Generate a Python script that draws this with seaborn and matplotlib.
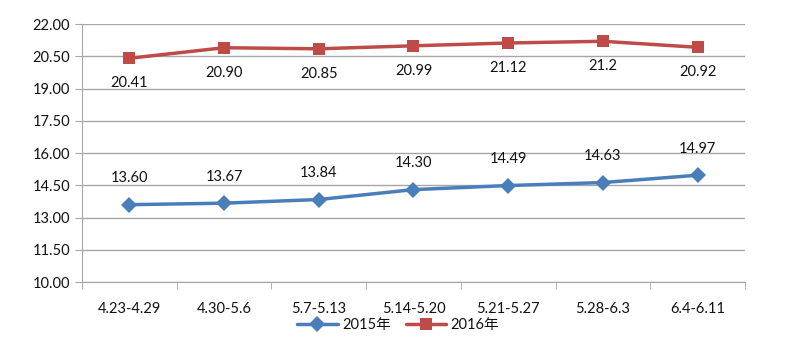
import matplotlib
matplotlib.use("Agg")
import matplotlib.pyplot as plt
import seaborn as sns
import pandas as pd

categories = ["4.23-4.29", "4.30-5.6", "5.7-5.13", "5.14-5.20", "5.21-5.27", "5.28-6.3", "6.4-6.11"]
values_2015 = [13.60, 13.67, 13.84, 14.30, 14.49, 14.63, 14.97]
values_2016 = [20.41, 20.90, 20.85, 20.99, 21.12, 21.20, 20.92]
labels_2015 = ["13.60", "13.67", "13.84", "14.30", "14.49", "14.63", "14.97"]
labels_2016 = ["20.41", "20.90", "20.85", "20.99", "21.12", "21.2", "20.92"]
yticks = [10.00, 11.50, 13.00, 14.50, 16.00, 17.50, 19.00, 20.50, 22.00]

sns.set_style("white")
plt.rcParams['font.family'] = ['Lato', 'Noto Sans CJK SC', 'DejaVu Sans']

df = pd.DataFrame({
    "pos": list(range(len(categories))) * 2,
    "value": values_2015 + values_2016,
    "series": ["2015年"] * len(categories) + ["2016年"] * len(categories),
})

fig = plt.figure(figsize=(7.85, 3.44), dpi=100)
ax = fig.add_axes([0.1045, 0.180, 0.8445, 0.750])

blue = "#4A7EBB"
red = "#BE4B48"
sns.lineplot(data=df, x="pos", y="value", hue="series", style="series",
             markers={"2015年": "D", "2016年": "s"}, dashes=False,
             palette={"2015年": blue, "2016年": red}, linewidth=2.5,
             markersize=8, markeredgewidth=0, ax=ax)

ax.set_xlim(-0.5, len(categories) - 0.5)
ax.set_ylim(10, 22)
ax.set_yticks(yticks)
ax.set_yticklabels([f"{v:.2f}" for v in yticks], fontsize=10.5, color="#111111")
ax.yaxis.grid(True, color="#A6A6A6", linewidth=1)
ax.set_axisbelow(True)
ax.set_xticks(range(len(categories)))
ax.set_xticklabels(categories, fontsize=10.5, color="#111111")
ax.tick_params(axis="x", length=0, pad=14)
ax.tick_params(axis="y", length=5, color="#A6A6A6", direction="out", left=True)
ax.set_xticks([i - 0.5 for i in range(len(categories) + 1)], minor=True)
ax.tick_params(axis="x", which="minor", length=5, color="#A6A6A6", direction="out", bottom=True)
for s in ["top", "right"]:
    ax.spines[s].set_visible(False)
ax.spines["left"].set_color("#A6A6A6")
ax.spines["bottom"].set_color("#A6A6A6")
ax.set_xlabel("")
ax.set_ylabel("")

for i, (v, t) in enumerate(zip(values_2015, labels_2015)):
    ax.annotate(t, (i, v), xytext=(0, 14), textcoords="offset points",
                ha="center", va="bottom", fontsize=10.5, color="#111111")
for i, (v, t) in enumerate(zip(values_2016, labels_2016)):
    ax.annotate(t, (i, v), xytext=(0, -13), textcoords="offset points",
                ha="center", va="top", fontsize=10.5, color="#111111")

leg = ax.legend(loc="center", bbox_to_anchor=(0.477, -0.168), ncol=2, frameon=False,
                fontsize=10.5, handlelength=2.8, columnspacing=1.0, handletextpad=0.3)
leg.set_title(None)
for t in leg.get_texts():
    t.set_color("#111111")

fig.savefig("out.png", dpi=100)
